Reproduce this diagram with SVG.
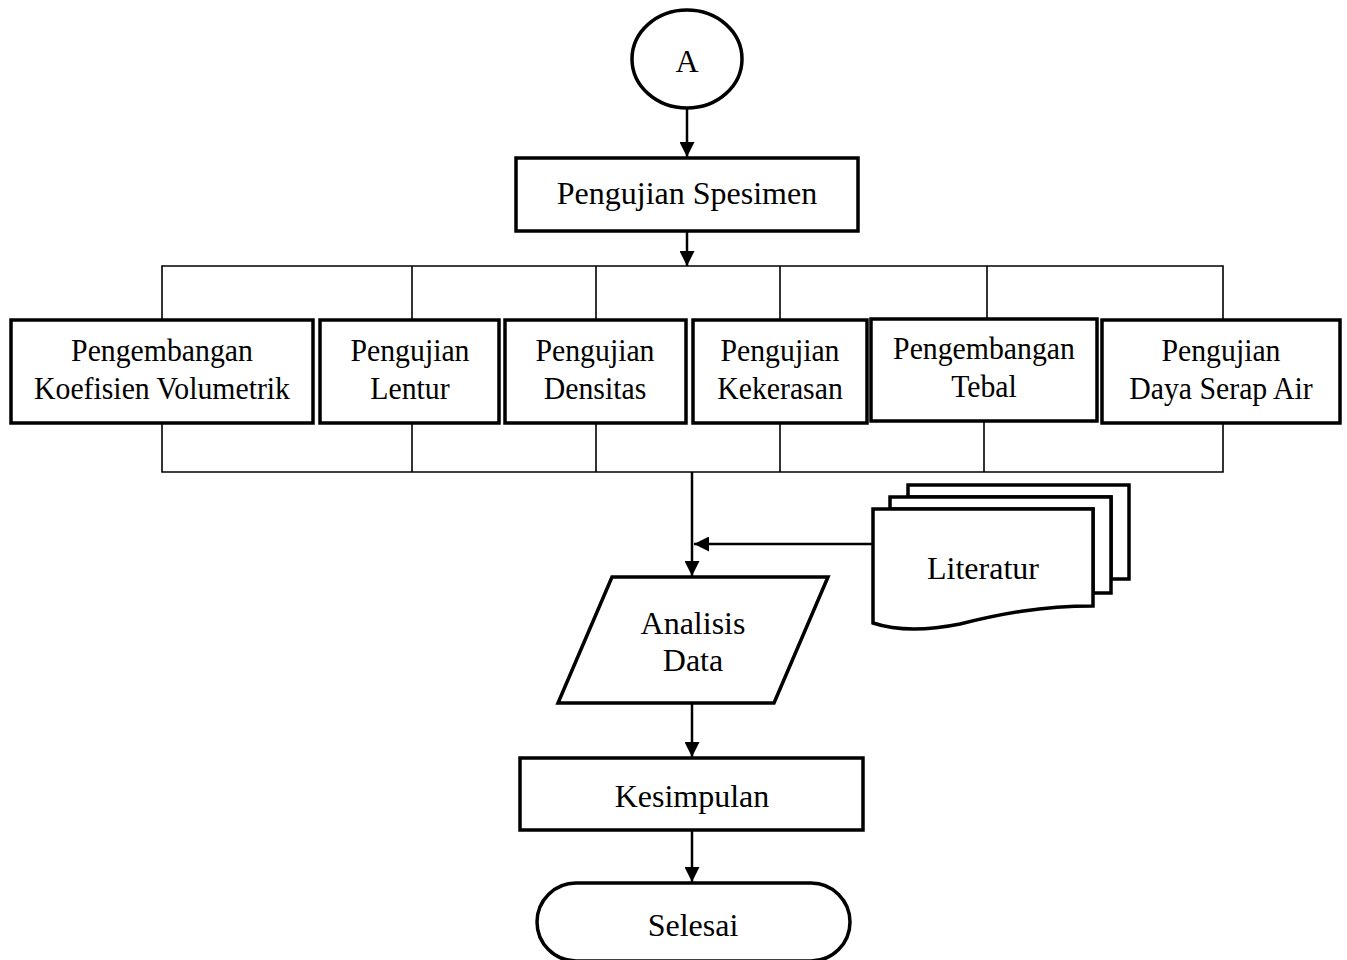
<svg xmlns="http://www.w3.org/2000/svg" width="1347" height="960" viewBox="0 0 1347 960">
<style>
.n{fill:#fff;stroke:#000;stroke-width:3.5}
.t{font-family:"Liberation Serif","Times New Roman",serif;font-size:32px;fill:#000;text-anchor:middle}
.c{fill:none;stroke:#000;stroke-width:2.5}
.b{fill:none;stroke:#000;stroke-width:1.6}
</style>
<defs>
<marker id="ah" markerWidth="15" markerHeight="15" refX="15" refY="7.5" orient="auto" markerUnits="userSpaceOnUse">
<path d="M0,0 L15,7.5 L0,15 Z" fill="#000"/>
</marker>
</defs>
<rect width="1347" height="960" fill="#fff"/>
<g id="connectors">
<line class="c" x1="687" y1="108" x2="687" y2="157" marker-end="url(#ah)"/>
<line class="c" x1="687" y1="231" x2="687" y2="266" marker-end="url(#ah)"/>
<path class="b" d="M162,320 V266 H1223 V320 M412,266 V320 M596,266 V320 M780,266 V320 M987,266 V320"/>
<path class="b" d="M162,423 V472 H1223 V421 M412,423 V472 M596,423 V472 M780,423 V472 M984,421 V472"/>
<line class="c" x1="692" y1="472" x2="692" y2="576" marker-end="url(#ah)"/>
<line class="c" x1="872" y1="544" x2="694" y2="544" marker-end="url(#ah)"/>
<line class="c" x1="692" y1="703" x2="692" y2="757" marker-end="url(#ah)"/>
<line class="c" x1="692" y1="830" x2="692" y2="882" marker-end="url(#ah)"/>
</g>
<g id="nodeA"><ellipse class="n" cx="687" cy="59" rx="55" ry="49"/><text class="t" x="687" y="72">A</text></g>
<g id="spesimen"><rect class="n" x="516" y="158" width="342" height="73"/><text class="t" x="687" y="204">Pengujian Spesimen</text></g>
<g id="koefisien"><rect class="n" x="11" y="320" width="302" height="103"/><text class="t" transform="translate(162,361) scale(0.93,1)">Pengembangan</text><text class="t" transform="translate(162,399) scale(0.93,1)">Koefisien Volumetrik</text></g>
<g id="lentur"><rect class="n" x="320" y="320" width="179" height="103"/><text class="t" transform="translate(410,361) scale(0.93,1)">Pengujian</text><text class="t" transform="translate(410,399) scale(0.93,1)">Lentur</text></g>
<g id="densitas"><rect class="n" x="505" y="320" width="181" height="103"/><text class="t" transform="translate(595,361) scale(0.93,1)">Pengujian</text><text class="t" transform="translate(595,399) scale(0.93,1)">Densitas</text></g>
<g id="kekerasan"><rect class="n" x="693" y="320" width="174" height="103"/><text class="t" transform="translate(780,361) scale(0.93,1)">Pengujian</text><text class="t" transform="translate(780,399) scale(0.93,1)">Kekerasan</text></g>
<g id="tebal"><rect class="n" x="871" y="319" width="226" height="102"/><text class="t" transform="translate(984,359) scale(0.93,1)">Pengembangan</text><text class="t" transform="translate(984,397) scale(0.93,1)">Tebal</text></g>
<g id="dayaserap"><rect class="n" x="1102" y="320" width="238" height="103"/><text class="t" transform="translate(1221,361) scale(0.93,1)">Pengujian</text><text class="t" transform="translate(1221,399) scale(0.93,1)">Daya Serap Air</text></g>
<g id="analisis"><path class="n" d="M612,577 H828 L774,703 H558 Z"/><text class="t" x="693" y="634">Analisis</text><text class="t" x="693" y="671">Data</text></g>
<g id="literatur">
<path class="n" d="M908,485 H1129 V579 H1111 V497 H908 Z"/>
<path class="n" d="M890,497 H1111 V593 H1093 V509 H890 Z"/>
<path class="n" d="M873,509 H1093 V606 C1040,606 1000,614 960,624 C930,630 900,632 873,623 Z"/>
<text class="t" x="983" y="579">Literatur</text>
</g>
<g id="kesimpulan"><rect class="n" x="520" y="758" width="343" height="72"/><text class="t" x="692" y="807">Kesimpulan</text></g>
<g id="selesai"><rect class="n" x="537" y="883" width="313" height="78" rx="39" ry="39"/><text class="t" x="693" y="936">Selesai</text></g>
</svg>
